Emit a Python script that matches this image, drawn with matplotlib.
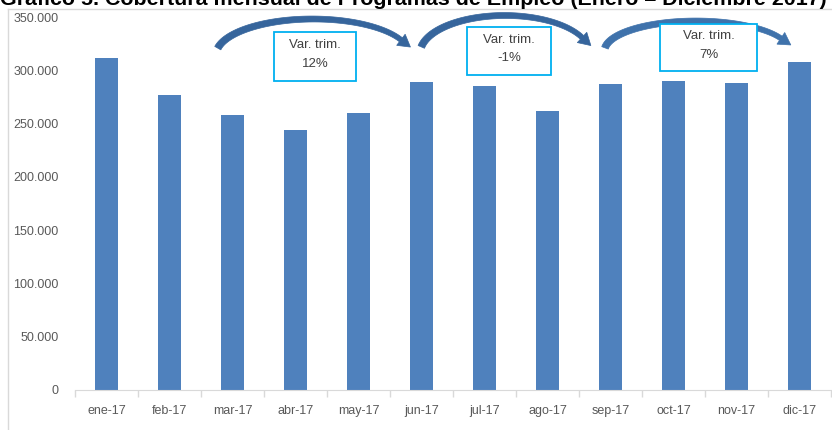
import numpy as np
import matplotlib
matplotlib.use("Agg")
import matplotlib.pyplot as plt
from matplotlib.patches import Polygon, Rectangle
from matplotlib.lines import Line2D

# ---- data ----
months = ["ene-17", "feb-17", "mar-17", "abr-17", "may-17", "jun-17",
          "jul-17", "ago-17", "sep-17", "oct-17", "nov-17", "dic-17"]
coverage = [311500, 277000, 258000, 244000, 260000, 289000,
            285500, 261500, 287500, 290000, 288500, 308000]
yticks = [0, 50000, 100000, 150000, 200000, 250000, 300000, 350000]
ytick_labels = ["0", "50.000", "100.000", "150.000", "200.000", "250.000", "300.000", "350.000"]
var_labels = ["Var. trim.\n12%", "Var. trim.\n-1%", "Var. trim.\n7%"]
title = "Gráfico 5. Cobertura mensual de Programas de Empleo (Enero – Diciembre 2017)"

W, H = 832, 430
fig = plt.figure(figsize=(W / 100, H / 100), dpi=100)
plt.rcParams['font.family'] = ['Liberation Sans', 'DejaVu Sans']

def P(x, y):
    return (x / W, 1 - y / H)

# axes placement
left, right, top, bottom = 75, 831, 17, 390
ax = fig.add_axes([left / W, 1 - bottom / H, (right - left) / W, (bottom - top) / H])

x = np.arange(len(months))
ax.bar(x, coverage, width=0.35, color="#4F81BD", zorder=2)
ax.set_xlim(-0.5, len(months) - 0.5)
ax.set_ylim(0, 350000)
ax.set_yticks(yticks)
ax.set_yticklabels(ytick_labels)
ax.set_xticks(x)
ax.set_xticklabels(months)
ax.set_xticks(np.arange(-0.5, len(months), 1.0), minor=True)
for s in ["top", "right", "left"]:
    ax.spines[s].set_visible(False)
ax.spines["bottom"].set_color("#D9D9D9")
ax.tick_params(axis="y", length=0, pad=12, labelsize=9, labelcolor="#595959")
ax.tick_params(axis="x", which="major", length=0, pad=11, labelsize=9, labelcolor="#595959")
ax.tick_params(axis="x", which="minor", length=5, color="#D9D9D9", width=1)
ax.patch.set_alpha(0)

# chart area border
fig.add_artist(Line2D([8 / W, 1.0], [1 - 9 / H, 1 - 9 / H], color="#D9D9D9", lw=1))
fig.add_artist(Line2D([8 / W, 8 / W], [0, 1 - 9 / H], color="#D9D9D9", lw=1))

# title (cut at top, as in the reference)
fig.text(413 / W, 1 - 5 / H, title, ha="center", va="baseline",
         fontsize=15.4, fontweight="bold", color="black")

# curved arrows
def curved_arrow(cx, cy, a, b, t0, t1, w0=7, w1=5, hw=14, hl=12, color="#36659C"):
    ts = np.radians(np.linspace(t0, t1, 80))
    px = cx + a * np.cos(ts)
    py = cy - b * np.sin(ts)
    dx = np.gradient(px)
    dy = np.gradient(py)
    n = np.hypot(dx, dy)
    tx, ty = dx / n, dy / n
    nx, ny = -ty, tx
    wid = np.linspace(w0, w1, len(ts)) / 2
    outer = np.column_stack([px + nx * wid, py + ny * wid])
    inner = np.column_stack([px - nx * wid, py - ny * wid])
    ex, ey = px[-1], py[-1]
    etx, ety = tx[-1], ty[-1]
    enx, eny = nx[-1], ny[-1]
    head = np.array([[ex + enx * hw / 2, ey + eny * hw / 2],
                     [ex + etx * hl, ey + ety * hl],
                     [ex - enx * hw / 2, ey - eny * hw / 2]])
    pts = np.vstack([outer, head, inner[::-1]])
    pts_fig = np.array([P(u, v) for u, v in pts])
    fig.add_artist(Polygon(pts_fig, closed=True, transform=fig.transFigure,
                           facecolor=color, edgecolor=color, lw=0.5, zorder=5))

curved_arrow(313, 55, 97, 36, 169, 25)
curved_arrow(505, 53.5, 85, 38, 170, 25)
curved_arrow(697, 51, 92.5, 30, 174, 25, color="#3F72AB")

# boxes with text
boxes = [(274, 32, 356, 81), (467, 27, 551, 75), (660, 24, 757, 71)]
for (x0, y0, x1, y1), lab in zip(boxes, var_labels):
    fig.add_artist(Rectangle(P(x0, y1), (x1 - x0) / W, (y1 - y0) / H,
                             transform=fig.transFigure, facecolor="white",
                             edgecolor="#00B0F0", lw=1.3, zorder=6))
    fig.text((x0 + x1) / 2 / W, 1 - ((y0 + y1) / 2 - 2) / H, lab, ha="center", va="center",
             fontsize=9.5, color="#404040", linespacing=1.75, zorder=7)

fig.savefig("out.png", dpi=100)
